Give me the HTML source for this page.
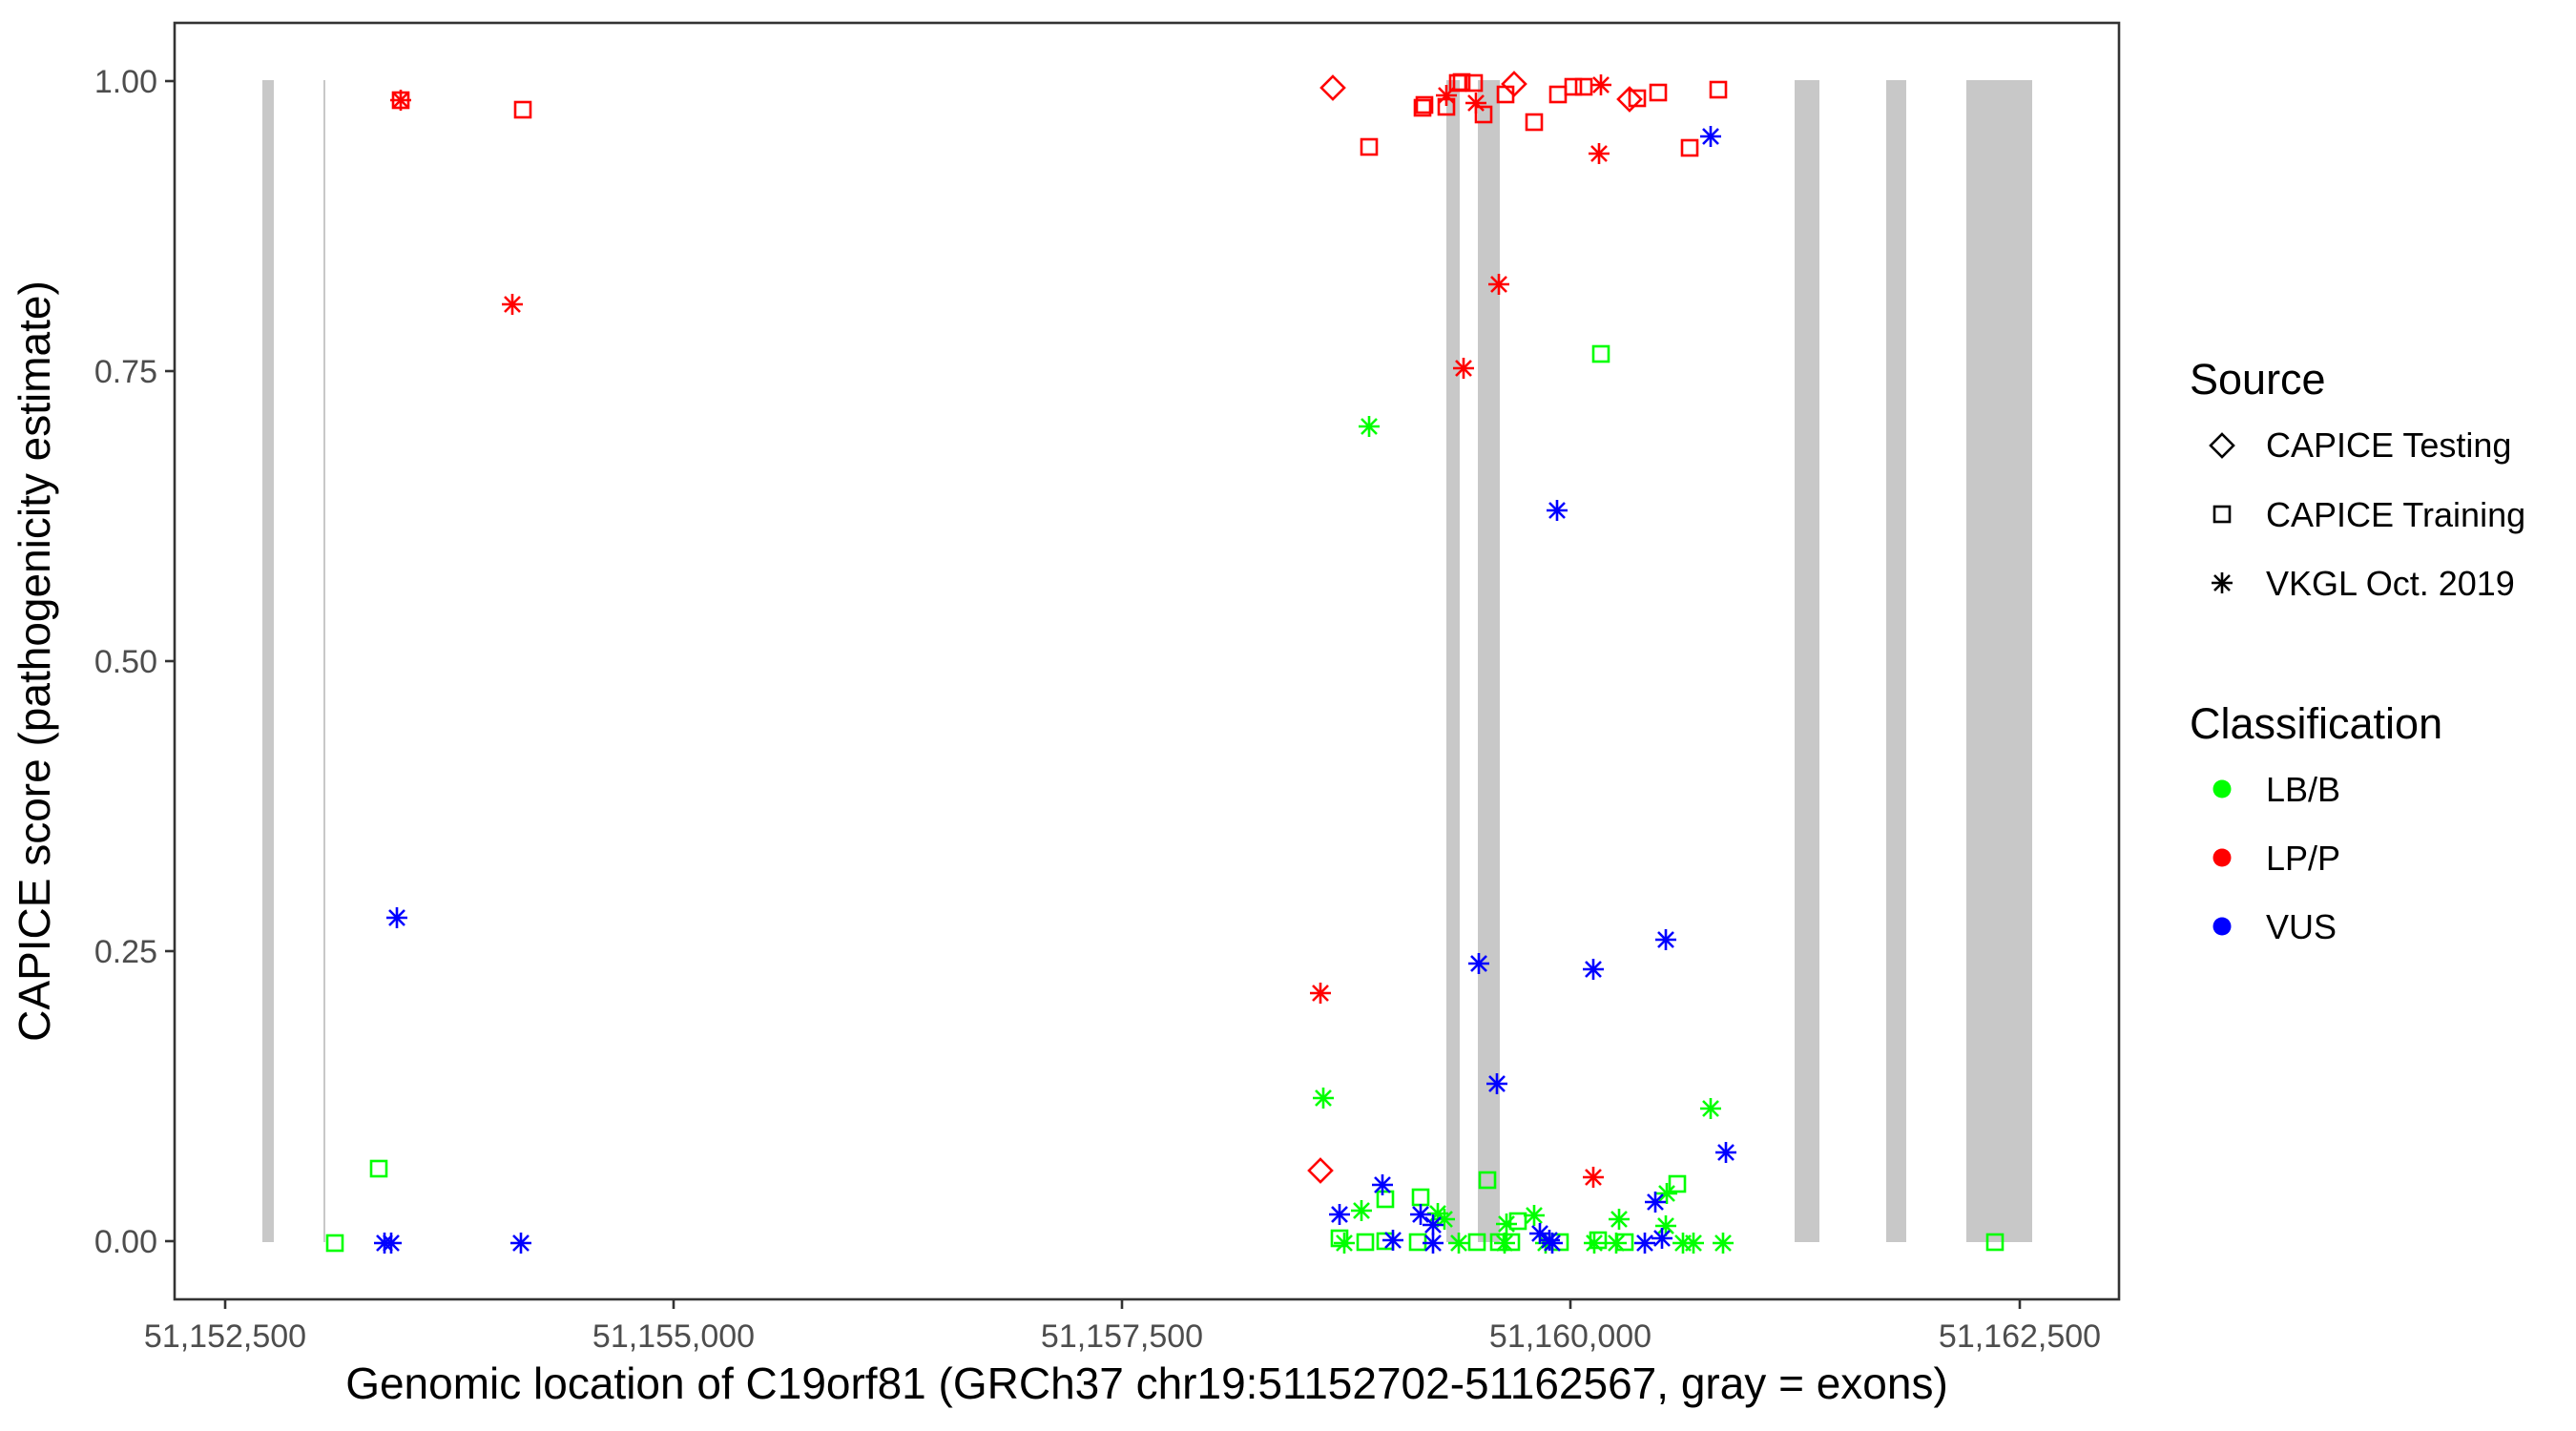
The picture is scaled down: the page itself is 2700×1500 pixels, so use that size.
<!DOCTYPE html>
<html><head><meta charset="utf-8"><style>
html,body{margin:0;padding:0;background:#fff}
svg{display:block}
text{font-family:"Liberation Sans",Arial,sans-serif}
</style></head><body>
<svg width="2700" height="1500" viewBox="0 0 2700 1500" xmlns="http://www.w3.org/2000/svg">
<defs>
<g id="st" fill="none" stroke-width="2.6"><line x1="-11" y1="0" x2="11" y2="0"/><line x1="0" y1="-11" x2="0" y2="11"/><line x1="-8" y1="-8" x2="8" y2="8"/><line x1="-8" y1="8" x2="8" y2="-8"/></g>
<rect id="sq" x="-8" y="-8" width="16" height="16" fill="none" stroke-width="2.6"/>
<polygon id="di" points="0,-12 12,0 0,12 -12,0" fill="none" stroke-width="2.6"/>
</defs>
<rect width="2700" height="1500" fill="#fff"/>
<g fill="#c8c8c8">
<rect x="275" y="84" width="12" height="1218"/>
<rect x="339" y="84" width="2" height="1218"/>
<rect x="1516" y="84" width="14" height="1218"/>
<rect x="1549" y="84" width="23" height="1218"/>
<rect x="1881" y="84" width="26" height="1218"/>
<rect x="1977" y="84" width="21" height="1218"/>
<rect x="2061" y="84" width="69" height="1218"/>
</g>
<g stroke="#ff0000">
<use href="#sq" x="420" y="105"/><use href="#st" x="420" y="105"/>
<use href="#sq" x="548" y="115"/><use href="#st" x="537" y="319"/>
<use href="#di" x="1397" y="92"/><use href="#sq" x="1435" y="154"/>
<use href="#sq" x="1491" y="113"/><use href="#sq" x="1493" y="110"/>
<use href="#st" x="1516" y="100"/><use href="#sq" x="1516" y="112"/>
<use href="#sq" x="1528" y="87"/><use href="#sq" x="1532" y="86"/><use href="#sq" x="1545" y="87"/>
<use href="#st" x="1547" y="108"/><use href="#sq" x="1555" y="120"/>
<use href="#sq" x="1578" y="99"/><use href="#di" x="1587" y="88"/>
<use href="#sq" x="1608" y="128"/><use href="#sq" x="1633" y="99"/>
<use href="#sq" x="1649" y="91"/><use href="#sq" x="1660" y="91"/>
<use href="#st" x="1678" y="89"/><use href="#di" x="1708" y="104"/><use href="#sq" x="1716" y="103"/>
<use href="#sq" x="1738" y="97"/><use href="#st" x="1676" y="161"/><use href="#sq" x="1771" y="155"/>
<use href="#sq" x="1801" y="94"/>
<use href="#st" x="1571" y="298"/><use href="#st" x="1534" y="386"/>
<use href="#st" x="1384" y="1041"/><use href="#di" x="1384" y="1227"/><use href="#st" x="1670" y="1234"/>
</g>
<g stroke="#00ff00">
<use href="#sq" x="397" y="1225"/><use href="#sq" x="351" y="1303"/>
<use href="#sq" x="1678" y="371"/><use href="#st" x="1435" y="447"/>
<use href="#st" x="1387" y="1151"/><use href="#st" x="1793" y="1162"/>
<use href="#sq" x="1559" y="1237"/><use href="#sq" x="1452" y="1257"/><use href="#sq" x="1489" y="1255"/>
<use href="#st" x="1427" y="1269"/><use href="#st" x="1507" y="1272"/><use href="#st" x="1514" y="1278"/>
<use href="#st" x="1579" y="1283"/><use href="#sq" x="1591" y="1280"/><use href="#st" x="1608" y="1274"/>
<use href="#st" x="1697" y="1278"/><use href="#st" x="1747" y="1251"/><use href="#sq" x="1758" y="1241"/>
<use href="#st" x="1746" y="1285"/>
<use href="#sq" x="1404" y="1298"/><use href="#st" x="1409" y="1303"/><use href="#sq" x="1431" y="1302"/>
<use href="#sq" x="1452" y="1301"/><use href="#sq" x="1486" y="1302"/><use href="#st" x="1529" y="1303"/>
<use href="#sq" x="1548" y="1302"/><use href="#st" x="1577" y="1303"/><use href="#sq" x="1571" y="1302"/>
<use href="#sq" x="1584" y="1302"/><use href="#sq" x="1635" y="1302"/><use href="#st" x="1620" y="1303"/>
<use href="#st" x="1671" y="1303"/><use href="#sq" x="1675" y="1300"/><use href="#st" x="1694" y="1303"/>
<use href="#sq" x="1703" y="1302"/><use href="#st" x="1764" y="1303"/><use href="#st" x="1775" y="1303"/>
<use href="#st" x="1806" y="1303"/><use href="#sq" x="2091" y="1302"/>
</g>
<g stroke="#0000ff">
<use href="#st" x="416" y="962"/><use href="#st" x="403" y="1303"/><use href="#st" x="410" y="1303"/>
<use href="#st" x="546" y="1303"/>
<use href="#st" x="1793" y="143"/><use href="#st" x="1632" y="535"/>
<use href="#st" x="1550" y="1010"/><use href="#st" x="1670" y="1016"/><use href="#st" x="1746" y="985"/>
<use href="#st" x="1569" y="1136"/><use href="#st" x="1809" y="1208"/>
<use href="#st" x="1449" y="1242"/><use href="#st" x="1404" y="1273"/><use href="#st" x="1489" y="1273"/>
<use href="#st" x="1502" y="1284"/><use href="#st" x="1735" y="1260"/>
<use href="#st" x="1460" y="1300"/><use href="#st" x="1502" y="1303"/><use href="#st" x="1614" y="1293"/>
<use href="#st" x="1624" y="1300"/><use href="#st" x="1627" y="1303"/><use href="#st" x="1724" y="1303"/>
<use href="#st" x="1742" y="1298"/>
</g>
<rect x="183" y="24" width="2038" height="1338" fill="none" stroke="#333" stroke-width="2.6"/>
<g stroke="#333" stroke-width="2.6">
<line x1="173" y1="85" x2="183" y2="85"/><line x1="173" y1="389" x2="183" y2="389"/>
<line x1="173" y1="693" x2="183" y2="693"/><line x1="173" y1="997" x2="183" y2="997"/>
<line x1="173" y1="1301" x2="183" y2="1301"/>
<line x1="236" y1="1362" x2="236" y2="1372"/><line x1="706" y1="1362" x2="706" y2="1372"/>
<line x1="1176" y1="1362" x2="1176" y2="1372"/><line x1="1646" y1="1362" x2="1646" y2="1372"/>
<line x1="2117" y1="1362" x2="2117" y2="1372"/>
</g>
<g fill="#4d4d4d" font-size="34" text-anchor="end">
<text x="165" y="97">1.00</text><text x="165" y="401">0.75</text><text x="165" y="705">0.50</text>
<text x="165" y="1009">0.25</text><text x="165" y="1313">0.00</text>
</g>
<g fill="#4d4d4d" font-size="34" text-anchor="middle">
<text x="236" y="1412">51,152,500</text><text x="706" y="1412">51,155,000</text>
<text x="1176" y="1412">51,157,500</text><text x="1646" y="1412">51,160,000</text>
<text x="2117" y="1412">51,162,500</text>
</g>
<text x="1202" y="1466" font-size="46" text-anchor="middle" fill="#000">Genomic location of C19orf81 (GRCh37 chr19:51152702-51162567, gray = exons)</text>
<text transform="translate(52,693) rotate(-90)" font-size="46" text-anchor="middle" fill="#000">CAPICE score (pathogenicity estimate)</text>
<text x="2295" y="413" font-size="45" fill="#000">Source</text>
<g stroke="#000"><use href="#di" x="2329" y="467"/><use href="#sq" x="2329" y="539"/><use href="#st" x="2329" y="611"/></g>
<g font-size="36" fill="#000">
<text x="2375" y="479">CAPICE Testing</text><text x="2375" y="552">CAPICE Training</text><text x="2375" y="624">VKGL Oct. 2019</text>
</g>
<text x="2295" y="774" font-size="45" fill="#000">Classification</text>
<circle cx="2329" cy="827" r="9.5" fill="#00ff00"/><circle cx="2329" cy="899" r="9.5" fill="#ff0000"/><circle cx="2329" cy="971" r="9.5" fill="#0000ff"/>
<g font-size="36" fill="#000">
<text x="2375" y="840">LB/B</text><text x="2375" y="912">LP/P</text><text x="2375" y="984">VUS</text>
</g>
</svg>
</body></html>
